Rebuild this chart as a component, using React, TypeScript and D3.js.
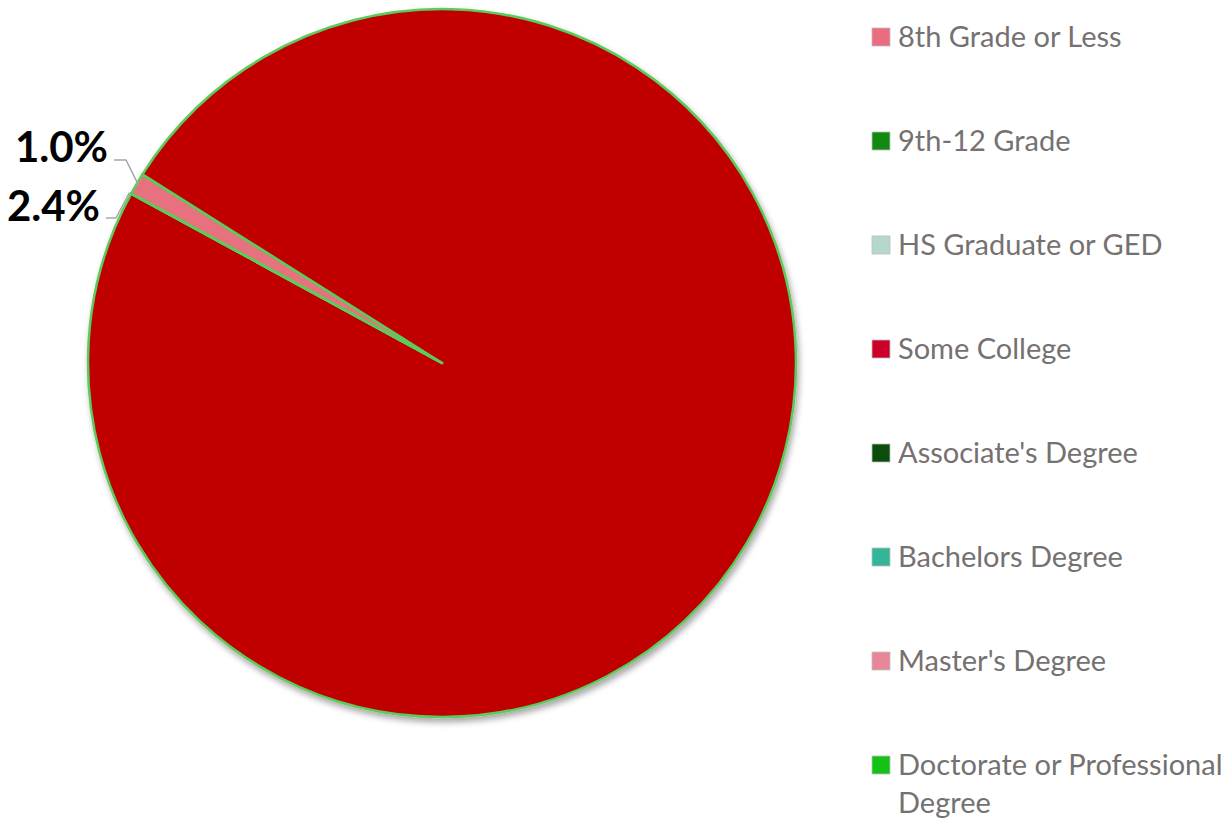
import React from "react";
import * as d3 from "d3";

const categories = [
  "8th Grade or Less",
  "9th-12 Grade",
  "HS Graduate or GED",
  "Some College",
  "Associate's Degree",
  "Bachelors Degree",
  "Master's Degree",
  "Doctorate or Professional Degree",
];
const values = [1.0, 0, 0, 99.0, 0, 0, 0, 0];
const legendColors = ["#E96C80", "#128A12", "#B4D8CC", "#CC0029", "#0B4D0B", "#35B597", "#E8879A", "#14C114"];
const sliceColors = ["#E8717F", "#128A12", "#B4D8CC", "#C00000", "#0B4D0B", "#35B597", "#E8879A", "#14C114"];
const labelTexts = ["1.0%", "2.4%"];

export default function App() {
  const W = 1231, H = 823;
  const cx = 442, cy = 363, r = 354;
  const start = (298.6 / 180) * Math.PI;
  const pie = d3.pie<number>().sort(null).value((d) => d).startAngle(start).endAngle(start + 2 * Math.PI);
  const arcs = pie(values);
  const arc = d3.arc<d3.PieArcDatum<number>>().innerRadius(0).outerRadius(r);

  const pt = (a: number, rr: number) => [cx + rr * Math.sin(a), cy - rr * Math.cos(a)];
  const first = arcs[0];
  const mid1 = (first.startAngle + first.endAngle) / 2;
  const [p1x, p1y] = pt(mid1, r - 2);
  const [p2x, p2y] = pt(first.startAngle, r + 2);

  const legendX = 872, legendY0 = 28, legendStep = 104;
  return (
    <svg width={W} height={H} style={{ position: "absolute", left: 0, top: 0 }}>
      <defs>
        <filter id="sh" x="-10%" y="-10%" width="120%" height="120%">
          <feDropShadow dx="2" dy="4" stdDeviation="3" floodColor="#000" floodOpacity="0.35" />
        </filter>
      </defs>
      <g filter="url(#sh)">
        {arcs.map((a, i) => (
          <path
            key={i}
            d={arc(a) || ""}
            transform={`translate(${cx},${cy})`}
            fill={sliceColors[i]}
            stroke="#5CCB5C"
            strokeWidth={2.5}
            strokeLinejoin="round"
          />
        ))}
      </g>
      {/* leader lines */}
      <polyline points={`114,160 126,160 ${p1x},${p1y}`} fill="none" stroke="#A6A6A6" strokeWidth={1.5} />
      <polyline points={`106,218 116,218 ${p2x},${p2y}`} fill="none" stroke="#A6A6A6" strokeWidth={1.5} />
      <text x={108} y={162} textAnchor="end" fontFamily="Lato, sans-serif" fontWeight="bold" fontSize={42} fill="#000">
        {labelTexts[0]}
      </text>
      <text x={100} y={221} textAnchor="end" fontFamily="Lato, sans-serif" fontWeight="bold" fontSize={42} fill="#000">
        {labelTexts[1]}
      </text>
      {categories.map((c, i) => {
        const y = legendY0 + i * legendStep;
        const lines = c === "Doctorate or Professional Degree" ? ["Doctorate or Professional", "Degree"] : [c];
        return (
          <g key={c}>
            <rect x={legendX} y={y} width={18} height={18} fill={legendColors[i]} stroke="#BFBFBF" strokeWidth={0.8} />
            {lines.map((l, j) => (
              <text key={j} x={898} y={y + 19 + j * 38} fontFamily="Lato, sans-serif" fontSize={29} fill="#767171">
                {l}
              </text>
            ))}
          </g>
        );
      })}
    </svg>
  );
}
